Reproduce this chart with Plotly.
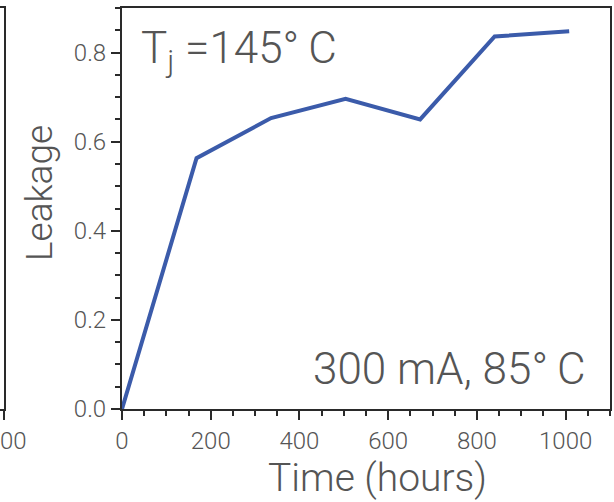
import plotly.graph_objects as go

hours = [0, 168, 336, 504, 672, 840, 1008]
leakage = [0.0, 0.563, 0.653, 0.696, 0.650, 0.836, 0.848]

x_ticks = [0, 200, 400, 600, 800, 1000]
y_ticks = [0.0, 0.2, 0.4, 0.6, 0.8]
left_panel_tick = [1000]

x_title = "Time (hours)"
y_title = "Leakage"
label_tj = "T<sub>j</sub> =145°\u2009C"
label_cond = "300 mA, 85°\u2009C"

FONT = "Roboto"
GRAY = "#555555"
AX = "#2a2a2a"

fig = go.Figure()
fig.add_trace(go.Scatter(x=hours, y=leakage, mode="lines",
                         line=dict(color="#3B5BAA", width=4),
                         xaxis="x", yaxis="y", showlegend=False))
# neighbouring panel fragment (only its right edge is visible)
fig.add_trace(go.Scatter(x=[None], y=[None], xaxis="x2", yaxis="y2", showlegend=False))

W, H = 614, 502
ml, mr, mt, mb = 0, 4, 8, 93
pw = W - ml - mr
ph = H - mt - mb

tf = dict(size=24, color=GRAY, family=FONT, weight=300)

fig.update_layout(
    width=W, height=H,
    margin=dict(l=ml, r=mr, t=mt, b=mb, autoexpand=False),
    paper_bgcolor="white", plot_bgcolor="white",
    font=dict(family=FONT, color=GRAY, weight=300),
    xaxis=dict(domain=[122 / pw, 1], range=[0, 1100], anchor="y", automargin=False,
               tickvals=x_ticks, ticktext=[str(v) for v in x_ticks],
               ticks="outside", ticklen=9, tickwidth=1.5, tickcolor=AX,
               minor=dict(dtick=50, ticks="outside", ticklen=5, tickwidth=1.5, tickcolor=AX),
               showline=True, linecolor=AX, linewidth=2, mirror=True,
               showgrid=False, zeroline=False, tickfont=tf),
    yaxis=dict(domain=[0, 1], range=[0, 0.9], anchor="x", automargin=False,
               tickvals=y_ticks, ticktext=[f"{v:.1f}" for v in y_ticks],
               ticks="outside", ticklen=9, tickwidth=1.5, tickcolor=AX,
               minor=dict(dtick=0.05, ticks="outside", ticklen=5, tickwidth=1.5, tickcolor=AX),
               showline=True, linecolor=AX, linewidth=2, mirror=True,
               showgrid=False, zeroline=False, tickfont=tf),
    xaxis2=dict(domain=[0, 4 / pw], range=[990, 1000], anchor="y2", automargin=False,
                tickvals=left_panel_tick, ticktext=[str(v) for v in left_panel_tick],
                ticks="outside", ticklen=9, tickwidth=1.5, tickcolor=AX,
                showline=True, linecolor=AX, linewidth=2, mirror=True,
                showgrid=False, zeroline=False, ticklabeloverflow="allow",
                ticklabelshift=-4, tickfont=tf),
    yaxis2=dict(domain=[0, 1], range=[0, 0.9], anchor="x2", side="right", automargin=False,
                showline=True, linecolor=AX, linewidth=2, mirror=False,
                showticklabels=False, ticks="", showgrid=False, zeroline=False),
    annotations=[
        dict(text=label_tj, xref="x domain", yref="y domain",
             x=0.035, y=0.97, xanchor="left", yanchor="top", showarrow=False,
             font=dict(size=44, color=GRAY, family=FONT, weight=300)),
        dict(text=label_cond, xref="x domain", yref="y domain",
             x=0.955, y=0.03, xanchor="right", yanchor="bottom", showarrow=False,
             font=dict(size=44, color=GRAY, family=FONT, weight=300)),
        dict(text=x_title, xref="paper", yref="paper",
             x=(377 - ml) / pw, y=-(478 - mt - ph) / ph, xanchor="center", yanchor="middle",
             showarrow=False, font=dict(size=39, color=GRAY, family=FONT, weight=300)),
        dict(text=y_title, xref="paper", yref="paper", textangle=-90,
             x=(39 - ml) / pw, y=(mt + ph - 193) / ph, xanchor="center", yanchor="middle",
             showarrow=False, font=dict(size=37, color=GRAY, family=FONT, weight=300)),
    ],
)

fig.write_html("out.html")
